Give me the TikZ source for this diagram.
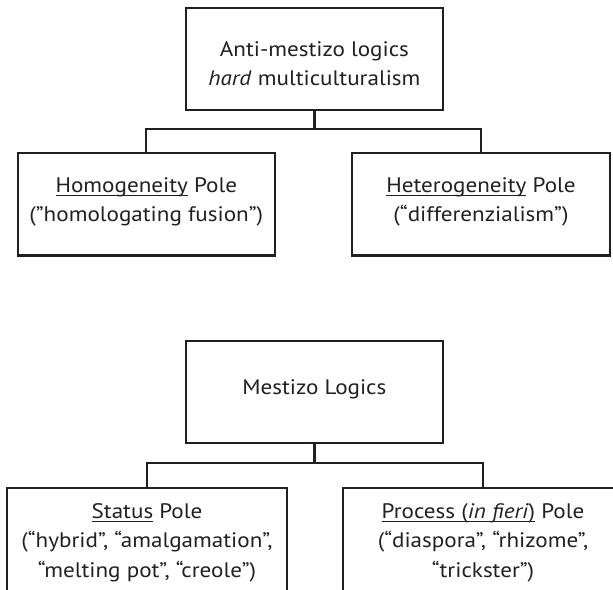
\documentclass[tikz,border=0pt]{standalone}
\usepackage{fontspec}
\setmainfont[FakeStretch=1.1]{PT Sans}
\definecolor{ink}{RGB}{35,31,32}
\newlength\ulwidth
\newcommand\myul[1]{\settowidth{\ulwidth}{#1}\rlap{\rule[-4.2pt]{\ulwidth}{1pt}}#1}
\begin{document}
\begin{tikzpicture}[x=1pt,y=-1pt,
  box/.style={draw=ink, line width=2.2pt, inner sep=0pt},
  txt/.style={inner sep=0pt, align=center, anchor=base, text=ink,
    font=\fontsize{21}{29.5}\selectfont},
  link/.style={draw=ink, line width=2.2pt}]
\useasboundingbox (0,0) rectangle (613,589);
\clip (0,0) rectangle (613,589);

% upper diagram (text nodes anchored at the baseline of their last line)
\node[box, minimum width=257.3pt, minimum height=101.7pt] (anti) at (314.4,59.2) {};
\node[txt] (antiT) at (314.4,85.5) {Anti-mestizo logics\\\textit{hard} multiculturalism};
\node[box, minimum width=257.4pt, minimum height=102.5pt] (homo) at (146.3,204.2) {};
\node[txt] (homoT) at (146.3,221.5) {\myul{Homogeneity} Pole\\(”homologating fusion”)};
\node[box, minimum width=258pt, minimum height=102.5pt] (hetero) at (481,204.2) {};
\node[txt] (heteroT) at (481,221.5) {\myul{Heterogeneity} Pole\\(“differenzialism”)};
\coordinate (j1) at (314.4,128.7);
\draw[link] (anti.south) -- (j1);
\draw[link] (homo.north) |- (j1) -| (hetero.north);

% lower diagram
\node[box, minimum width=257.3pt, minimum height=102.6pt] (mest) at (314.4,392) {};
\node[txt] (mestT) at (314.4,394) {Mestizo Logics};
\node[box, minimum width=280pt, minimum height=110pt] (status) at (147,543) {};
\node[txt] (statusT) at (147,577) {\myul{Status} Pole\\(“hybrid”, “amalgamation”,\\“melting pot”, “creole”)};
\node[box, minimum width=280pt, minimum height=110pt] (process) at (483,543) {};
\node[txt] (processT) at (483,577) {\myul{Process (\textit{in fieri})} Pole\\(“diaspora”, “rhizome”,\\“trickster”)};
\coordinate (j2) at (314.4,463.3);
\draw[link] (mest.south) -- (j2);
\draw[link] (status.north) |- (j2) -| (process.north);
\end{tikzpicture}
\end{document}
